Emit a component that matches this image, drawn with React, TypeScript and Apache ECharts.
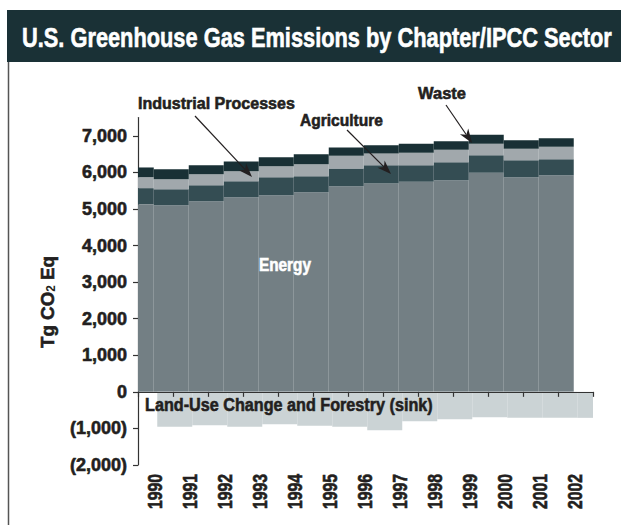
import React, { useEffect, useRef } from "react";
import * as echarts from "echarts";

const years = ["1990", "1991", "1992", "1993", "1994", "1995", "1996", "1997", "1998", "1999", "2000", "2001", "2002"];
const energy = [5131, 5104, 5213, 5323, 5377, 5459, 5623, 5697, 5741, 5787, 5987, 5869, 5924];
const agriculture = [438, 437, 438, 437, 492, 438, 484, 500, 456, 492, 484, 465, 437];
const industrialProcesses = [300, 274, 300, 273, 301, 328, 345, 320, 337, 337, 309, 309, 337];
const waste = [265, 273, 246, 265, 246, 273, 229, 227, 246, 237, 246, 238, 237];
const landUseSink = [-957, -910, -957, -883, -929, -957, -1047, -801, -746, -692, -711, -711, -711];
const yTicks = [-2000, -1000, 0, 1000, 2000, 3000, 4000, 5000, 6000, 7000];

const FF = "'Liberation Sans', Arial, sans-serif";
const DARK = "#231f20";
const HEAVY = 0.6;

let measureCtx: CanvasRenderingContext2D | null = null;
function textWidth(text: string, font: string) {
  if (!measureCtx) measureCtx = document.createElement("canvas").getContext("2d");
  measureCtx!.font = font;
  return measureCtx!.measureText(text).width;
}

function fitText(text: string, x: number, y: number, size: number, width: number, fill: string) {
  const font = `bold ${size}px ${FF}`;
  const s = width / textWidth(text, font);
  return {
    type: "text",
    x,
    y,
    scaleX: s,
    z: 100,
    silent: true,
    style: {
      text,
      font,
      fill,
      verticalAlign: "middle",
      align: "left",
      stroke: fill,
      lineWidth: HEAVY,
    },
  };
}

function arrow(x1: number, y1: number, x2: number, y2: number) {
  const dx = x2 - x1, dy = y2 - y1;
  const len = Math.sqrt(dx * dx + dy * dy);
  const ux = dx / len, uy = dy / len;
  const px = -uy, py = ux;
  const L = 14, W = 5, N = 10;
  const bx = x2 - ux * L, by = y2 - uy * L;
  const nx = x2 - ux * N, ny = y2 - uy * N;
  return [
    { type: "line", z: 100, shape: { x1, y1, x2: nx, y2: ny }, style: { stroke: DARK, lineWidth: 1.2 }, silent: true },
    {
      type: "polygon",
      z: 100,
      shape: { points: [[x2, y2], [bx + px * W, by + py * W], [nx, ny], [bx - px * W, by - py * W]] },
      style: { fill: DARK },
      silent: true,
    },
  ];
}

export default function App() {
  const ref = useRef<HTMLDivElement>(null);
  useEffect(() => {
    if (!ref.current) return;
    const chart = echarts.init(ref.current, null, { renderer: "svg" });
    const bar = (name: string, data: number[], color: string, stack: string) => ({
      name,
      type: "bar",
      stack,
      data,
      barWidth: "100%",
      barCategoryGap: "0%",
      itemStyle: { color },
      emphasis: { disabled: true },
    });
    chart.setOption({
      animation: false,
      backgroundColor: "#ffffff",
      grid: { left: 138, right: 28, top: 117.5, bottom: 60, containLabel: false },
      xAxis: {
        type: "category",
        data: years,
        position: "bottom",
        axisLine: { onZero: true, lineStyle: { color: "#333", width: 1.2 } },
        axisTick: { show: true, length: 5, inside: false, lineStyle: { color: "#333", width: 1.2 } },
        axisLabel: { show: false },
        z: 10,
      },
      yAxis: {
        type: "value",
        min: -2000,
        max: 7500,
        interval: 1000,
        splitLine: { show: false },
        axisLine: { show: true, lineStyle: { color: "#333", width: 1.2 } },
        axisTick: { show: true, length: 5, customValues: yTicks, lineStyle: { color: "#333", width: 1.2 } },
        axisLabel: {
          fontFamily: FF,
          fontWeight: "bold",
          fontSize: 18,
          color: DARK,
          textBorderColor: DARK,
          textBorderWidth: HEAVY,
          margin: 11,
          customValues: yTicks,
          formatter: (v: number) =>
            v < 0 ? `(${Math.abs(v).toLocaleString("en-US")})` : v.toLocaleString("en-US"),
        },
      },
      series: [
        bar("Energy", energy, "#737f84", "pos"),
        bar("Agriculture", agriculture, "#344d53", "pos"),
        bar("Industrial Processes", industrialProcesses, "#a1a8ac", "pos"),
        bar("Waste", waste, "#193035", "pos"),
        bar("Land-Use Change and Forestry (sink)", landUseSink, "#cbd3d5", "neg"),
      ],
    });

    const yearBottom = chart.convertToPixel({ yAxisIndex: 0 }, -2000) as number;
    const yearLabels = years.map((yr) => {
      const cx = chart.convertToPixel({ xAxisIndex: 0 }, yr) as number;
      const font = `bold 20px ${FF}`;
      return {
        type: "text",
        x: cx,
        y: yearBottom + 9,
        rotation: Math.PI / 2,
        scaleX: 35 / textWidth(yr, font),
        silent: true,
        style: {
          text: yr,
          font,
          fill: DARK,
          stroke: DARK,
          lineWidth: HEAVY,
          align: "right",
          verticalAlign: "middle",
        },
      };
    });

    const nameFont = `bold 19px ${FF}`;
    const subFont = `bold 12px ${FF}`;
    const nameW = textWidth("Tg CO", nameFont) + textWidth("2", subFont) + textWidth(" Eq", nameFont);

    chart.setOption({
      graphic: [
        { type: "rect", shape: { x: 7, y: 10, width: 614, height: 52 }, style: { fill: "#1a3136" }, silent: true },
        fitText("U.S. Greenhouse Gas Emissions by Chapter/IPCC Sector", 22, 37, 28, 590, "#ffffff"),
        { type: "line", shape: { x1: 8.5, y1: 62, x2: 8.5, y2: 525 }, style: { stroke: "#555", lineWidth: 1.5 }, silent: true },
        {
          type: "text",
          x: 47,
          y: 302,
          rotation: Math.PI / 2,
          scaleX: 92 / nameW,
          silent: true,
          style: {
            text: "{a|Tg CO}{s|2}{a| Eq}",
            align: "center",
            verticalAlign: "middle",
            rich: {
              a: { font: nameFont, fill: DARK, stroke: DARK, lineWidth: HEAVY },
              s: { font: subFont, fill: DARK, verticalAlign: "bottom", padding: [7, 0, 0, 0] },
            },
          },
        },
        fitText("Industrial Processes", 138, 103, 17, 157, DARK),
        fitText("Agriculture", 300, 120, 17, 83, DARK),
        fitText("Waste", 418, 93, 17, 48, DARK),
        fitText("Energy", 259, 265, 18, 52, "#ffffff"),
        fitText("Land-Use Change and Forestry (sink)", 145, 405, 19, 288, DARK),
        ...yearLabels,
        ...arrow(195, 116, 252, 177),
        ...arrow(347, 130, 391, 174),
        ...arrow(446, 105, 472, 143),
      ],
    });
    return () => chart.dispose();
  }, []);
  return (
    <div
      ref={ref}
      style={{ position: "fixed", left: 0, top: 0, width: 621, height: 525, background: "#fff" }}
    />
  );
}
